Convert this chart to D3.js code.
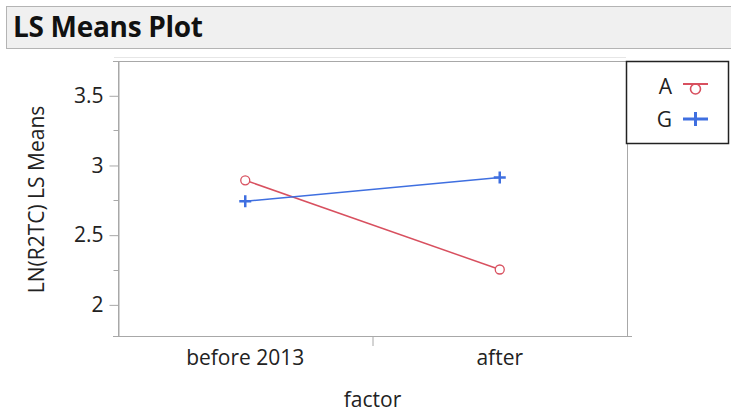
<!DOCTYPE html>
<html>
<head>
<meta charset="utf-8">
<script src="https://cdn.jsdelivr.net/npm/d3@7"></script>
<style>
  body { margin: 0; background: #fff; }
  text { font-family: "Open Sans", "Noto Sans", sans-serif; }
</style>
</head>
<body>
<script>
const categories = ['before 2013', 'after']
const seriesNames = ['A', 'G']
const valuesA = [2.89, 2.25]
const valuesG = [2.74, 2.91]
const yTicks = [2, 2.5, 3, 3.5]
const yMinorTicks = [2.25, 2.75, 3.25]

const colors = { A: '#d8505f', G: '#3f6fe0' }

const svgWidth = 731
const svgHeight = 413

const svg = d3.select('body')
  .append('svg')
  .attr('width', svgWidth)
  .attr('height', svgHeight)

// title bar
svg.append('rect')
  .attr('x', 6.5).attr('y', 6.5)
  .attr('width', 740).attr('height', 42)
  .attr('fill', '#f0f0f0')
  .attr('stroke', '#b4b4b4')

svg.append('text')
  .attr('x', 13).attr('y', 37)
  .attr('font-size', 28)
  .attr('font-weight', 'bold')
  .attr('fill', '#111')
  .attr('letter-spacing', -0.3)
  .text('LS Means Plot')

const plot = { left: 118, right: 627, top: 61, bottom: 336 }

const x = d3.scaleBand()
  .domain(categories)
  .range([plot.left, plot.right])

const y = d3.scaleLinear()
  .domain([1.773, 3.746])
  .range([plot.bottom, plot.top])

// faint line above plot
svg.append('line')
  .attr('x1', 114).attr('x2', 626)
  .attr('y1', 57.5).attr('y2', 57.5)
  .attr('stroke', '#e6e6e6')

// frame
svg.append('rect')
  .attr('x', plot.left + 0.5).attr('y', plot.top + 0.5)
  .attr('width', plot.right - plot.left).attr('height', plot.bottom - plot.top)
  .attr('fill', 'none')
  .attr('stroke', '#a8a8a8')

// y axis
const yAxis = d3.axisLeft(y).tickValues(yTicks).tickSize(9).tickSizeOuter(0)
  .tickFormat(d3.format('~g'))
const gy = svg.append('g')
  .attr('transform', `translate(${plot.left + 0.5},0.5)`)
  .call(yAxis)
gy.select('.domain').attr('stroke', '#a8a8a8')
gy.selectAll('.tick line').attr('stroke', '#a8a8a8')
gy.selectAll('.tick text').attr('font-size', 21).attr('fill', '#222')
  .attr('font-family', '"Open Sans", sans-serif').attr('x', -15)

svg.append('g')
  .attr('transform', `translate(${plot.left + 0.5},0.5)`)
  .selectAll('line')
  .data(yMinorTicks)
  .enter()
  .append('line')
  .attr('x1', -5).attr('x2', 0)
  .attr('y1', d => Math.round(y(d))).attr('y2', d => Math.round(y(d)))
  .attr('stroke', '#a8a8a8')

// top cap of y axis
svg.append('line')
  .attr('x1', plot.left - 5).attr('x2', plot.left)
  .attr('y1', plot.top + 0.5).attr('y2', plot.top + 0.5)
  .attr('stroke', '#a8a8a8')

// x axis
const xAxis = d3.axisBottom(x).tickSize(0).tickSizeOuter(0)
const gx = svg.append('g')
  .attr('transform', `translate(0,${plot.bottom + 0.5})`)
  .call(xAxis)
gx.select('.domain').attr('d', `M${plot.left - 5},0H${plot.right + 5}`).attr('stroke', '#a8a8a8')
gx.selectAll('.tick text').attr('font-size', 21).attr('fill', '#222')
  .attr('font-family', '"Open Sans", sans-serif').attr('y', 13.5).attr('dy', '0.71em')

// separator tick between categories
svg.append('line')
  .attr('x1', x(categories[1]) + 0.5).attr('x2', x(categories[1]) + 0.5)
  .attr('y1', plot.bottom).attr('y2', plot.bottom + 10)
  .attr('stroke', '#a8a8a8')

// axis titles
svg.append('text')
  .attr('x', (plot.left + plot.right) / 2)
  .attr('y', 407)
  .attr('text-anchor', 'middle')
  .attr('font-size', 21)
  .attr('fill', '#222')
  .text('factor')

svg.append('text')
  .attr('transform', `translate(37,${(plot.top + plot.bottom) / 2 + 1}) rotate(-90)`)
  .attr('text-anchor', 'middle')
  .attr('dy', '0.35em')
  .attr('font-size', 21)
  .attr('fill', '#222')
  .text('LN(R2TC) LS Means')

// lines
const line = d3.line()
  .x((d, i) => x(categories[i]) + x.bandwidth() / 2)
  .y(d => y(d))

svg.append('path')
  .datum(valuesA)
  .attr('d', line)
  .attr('fill', 'none')
  .attr('stroke', colors.A)
  .attr('stroke-width', 1.5)

svg.append('path')
  .datum(valuesG)
  .attr('d', line)
  .attr('fill', 'none')
  .attr('stroke', colors.G)
  .attr('stroke-width', 1.5)

// markers A: open circles
svg.selectAll('circle.markA')
  .data(valuesA)
  .enter()
  .append('circle')
  .attr('class', 'markA')
  .attr('cx', (d, i) => x(categories[i]) + x.bandwidth() / 2)
  .attr('cy', d => y(d))
  .attr('r', 4.5)
  .attr('fill', '#fff')
  .attr('stroke', colors.A)
  .attr('stroke-width', 1.3)

// markers G: plus
const plusPath = 'M-6,0H6M0,-6V6'
svg.selectAll('path.markG')
  .data(valuesG)
  .enter()
  .append('path')
  .attr('class', 'markG')
  .attr('transform', (d, i) => `translate(${x(categories[i]) + x.bandwidth() / 2},${y(d)})`)
  .attr('d', plusPath)
  .attr('stroke', colors.G)
  .attr('stroke-width', 2.5)

// legend
svg.append('rect')
  .attr('x', 626.5).attr('y', 61.5)
  .attr('width', 102).attr('height', 82)
  .attr('fill', '#fff')
  .attr('stroke', '#222')
  .attr('stroke-width', 1.5)

const legend = svg.selectAll('g.legend')
  .data(seriesNames)
  .enter()
  .append('g')
  .attr('class', 'legend')
  .attr('transform', (d, i) => `translate(0,${86 + i * 33})`)

legend.append('text')
  .attr('x', 672)
  .attr('y', 0)
  .attr('dy', '0.36em')
  .attr('text-anchor', 'end')
  .attr('font-size', 21)
  .attr('fill', '#222')
  .text(d => d)

legend.append('line')
  .attr('x1', 683).attr('x2', 708)
  .attr('y1', d => d === 'A' ? -2 : 0).attr('y2', d => d === 'A' ? -2 : 0)
  .attr('stroke', d => colors[d])
  .attr('stroke-width', d => d === 'A' ? 2 : 3)

legend.filter(d => d === 'A')
  .append('circle')
  .attr('cx', 695.5).attr('cy', 3)
  .attr('r', 5)
  .attr('fill', 'none')
  .attr('stroke', colors.A)
  .attr('stroke-width', 1.6)

legend.filter(d => d === 'G')
  .append('path')
  .attr('transform', 'translate(695.5,0)')
  .attr('d', 'M0,-7V7')
  .attr('stroke', colors.G)
  .attr('stroke-width', 3)
</script>
</body>
</html>
